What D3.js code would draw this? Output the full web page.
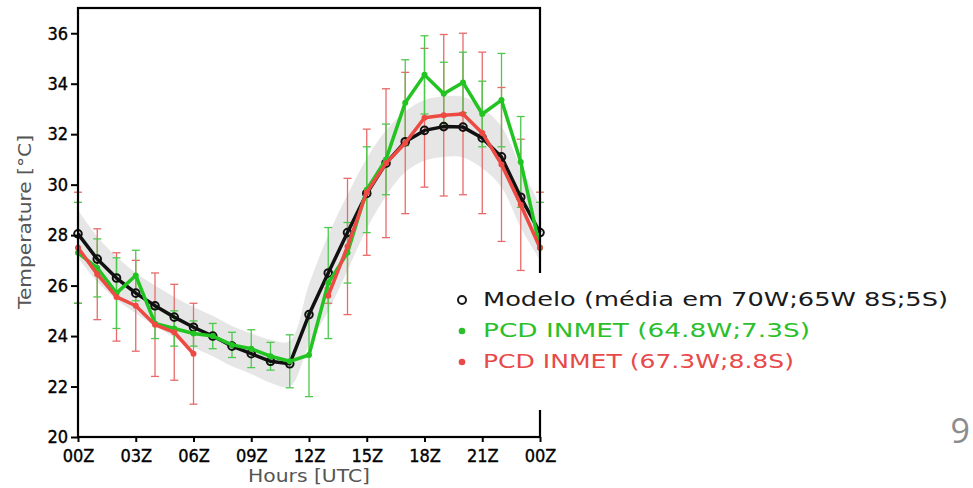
<!DOCTYPE html>
<html>
<head>
<meta charset="utf-8">
<script src="https://cdn.jsdelivr.net/npm/d3@7"></script>
<style>
  body { margin: 0; background: #fff; }
  svg { display: block; }
</style>
</head>
<body>
<script>
// hourly values, 00Z .. 00Z of the next day
const hours = [0, 1, 2, 3, 4, 5, 6, 7, 8, 9, 10, 11, 12, 13, 14, 15, 16, 17, 18, 19, 20, 21, 22, 23, 24];

const modelo = [28.05, 27.05, 26.3, 25.7, 25.2, 24.75, 24.35, 24.0, 23.6, 23.3, 23.0, 22.9, 24.85,
  26.5, 28.1, 29.65, 30.85, 31.7, 32.15, 32.3, 32.28, 31.85, 31.1, 29.5, 28.1];
const modeloStd = [0.95, 0.9, 0.85, 0.8, 0.8, 0.8, 0.8, 0.8, 0.8, 0.8, 0.85, 0.9, 1.2,
  1.5, 1.5, 1.4, 1.3, 1.2, 1.2, 1.2, 1.2, 1.2, 1.2, 1.2, 1.1];

const pcdVerde = [27.3, 26.7, 25.7, 26.4, 24.5, 24.3, 24.1, 24.0, 23.65, 23.5, 23.2, 23.0, 23.25,
  26.1, 27.3, 29.8, 31.0, 33.25, 34.35, 33.6, 34.05, 32.8, 33.35, 30.9, 27.5];
const pcdVerdeErr = [2.0, 1.15, 1.4, 1.0, 0.6, 0.7, 0.5, 0.5, 0.5, 0.75, 0.55, 1.05, 1.65,
  2.2, 1.2, 1.7, 1.4, 1.7, 1.55, 1.25, 1.2, 1.3, 1.85, 1.8, 1.8];

const pcdVermelho = [27.5, 26.45, 25.55, 25.2, 24.45, 24.15, 23.3, null, null, null, null, null, null,
  25.6, 27.55, 29.7, 30.85, 31.65, 32.65, 32.75, 32.8, 32.05, 30.8, 29.2, 27.5];
const pcdVermelhoErr = [2.2, 1.8, 1.75, 1.8, 2.05, 1.9, 2.0, null, null, null, null, null, null,
  0.3, 2.7, 2.5, 2.95, 2.8, 2.75, 3.2, 3.2, 3.2, 3.05, 2.6, 2.2];

const xTicks = [0, 3, 6, 9, 12, 15, 18, 21, 24];
const xTickLabels = ['00Z', '03Z', '06Z', '09Z', '12Z', '15Z', '18Z', '21Z', '00Z'];
const yTicks = [20, 22, 24, 26, 28, 30, 32, 34, 36];

const legendLabels = ['Modelo (média em 70W;65W 8S;5S)', 'PCD INMET (64.8W;7.3S)', 'PCD INMET (67.3W;8.8S)'];

const width = 973, height = 488;
const verde = '#22c422', verdeBar = '#4cc94c';
const vermelho = '#ee4a44', vermelhoBar = '#e86a6a';

const svg = d3.select('body').append('svg')
  .attr('width', width)
  .attr('height', height);

const x = d3.scaleLinear().domain([0, 24]).range([78, 540]);
const y = d3.scaleLinear().domain([20, 37]).range([437, 8]);

const tickFont = '"DejaVu Sans Condensed", "DejaVu Sans", sans-serif';

// gray band (model spread)
const band = d3.area()
  .x((d, i) => x(hours[i]))
  .y0((d, i) => y(d - modeloStd[i]))
  .y1((d, i) => y(d + modeloStd[i]))
  .curve(d3.curveCatmullRom);

svg.append('path')
  .datum(modelo)
  .attr('d', band)
  .attr('fill', '#e6e6e6');

// error bars
function errorBars(vals, errs, color) {
  const g = svg.append('g').attr('stroke', color).attr('stroke-width', 1.3).attr('fill', 'none');
  hours.forEach((h, i) => {
    if (vals[i] == null) return;
    const cx = x(h), top = y(vals[i] + errs[i]), bot = y(vals[i] - errs[i]);
    g.append('line').attr('x1', cx).attr('x2', cx).attr('y1', top).attr('y2', bot);
    g.append('line').attr('x1', cx - 4).attr('x2', cx + 4).attr('y1', top).attr('y2', top);
    g.append('line').attr('x1', cx - 4).attr('x2', cx + 4).attr('y1', bot).attr('y2', bot);
  });
}
errorBars(pcdVermelho, pcdVermelhoErr, vermelhoBar);
errorBars(pcdVerde, pcdVerdeErr, verdeBar);

const line = d3.line()
  .defined(d => d != null)
  .x((d, i) => x(hours[i]))
  .y(d => y(d));

// model
svg.append('path').datum(modelo).attr('d', line)
  .attr('fill', 'none').attr('stroke', '#111').attr('stroke-width', 3.5).attr('stroke-linejoin', 'round');
svg.append('g').selectAll('circle')
  .data(modelo)
  .join('circle')
  .attr('cx', (d, i) => x(hours[i]))
  .attr('cy', d => y(d))
  .attr('r', 3.8)
  .attr('fill', 'none')
  .attr('stroke', '#111')
  .attr('stroke-width', 2);

// stations
function station(vals, color) {
  svg.append('path').datum(vals).attr('d', line)
    .attr('fill', 'none').attr('stroke', color).attr('stroke-width', 3.5).attr('stroke-linejoin', 'round');
  svg.append('g').selectAll('circle')
    .data(hours.filter((h, i) => vals[i] != null))
    .join('circle')
    .attr('cx', h => x(h))
    .attr('cy', h => y(vals[h]))
    .attr('r', 3)
    .attr('fill', color);
}
station(pcdVerde, verde);
station(pcdVermelho, vermelho);

// frame
svg.append('rect')
  .attr('x', 78).attr('y', 8)
  .attr('width', 462).attr('height', 429)
  .attr('fill', 'none').attr('stroke', '#000').attr('stroke-width', 2.2);

// axes
const yAxis = svg.append('g')
  .attr('transform', 'translate(78,0)')
  .call(d3.axisLeft(y).tickValues(yTicks).tickSize(7).tickPadding(3));
const xAxis = svg.append('g')
  .attr('transform', 'translate(0,437)')
  .call(d3.axisBottom(x).tickValues(xTicks).tickSize(5).tickPadding(4)
    .tickFormat((d, i) => xTickLabels[i]));

[yAxis, xAxis].forEach(ax => {
  ax.select('.domain').remove();
  ax.selectAll('.tick line').attr('stroke', '#000').attr('stroke-width', 2);
  ax.selectAll('.tick text')
    .attr('fill', '#000')
    .attr('stroke', '#000').attr('stroke-width', 0.35)
    .style('font-family', tickFont)
    .style('font-size', '18px');
});
xAxis.selectAll('.tick text').attr('dy', null).attr('y', 25);

// axis titles
svg.append('text')
  .attr('transform', 'translate(31,222) rotate(-90)')
  .attr('text-anchor', 'middle')
  .attr('fill', '#555')
  .attr('textLength', 174)
  .attr('lengthAdjust', 'spacingAndGlyphs')
  .style('font-family', '"DejaVu Sans", sans-serif')
  .style('font-size', '18px')
  .text('Temperature [°C]');

svg.append('text')
  .attr('x', 309).attr('y', 482)
  .attr('text-anchor', 'middle')
  .attr('fill', '#555')
  .attr('textLength', 122)
  .attr('lengthAdjust', 'spacingAndGlyphs')
  .style('font-family', '"DejaVu Sans", sans-serif')
  .style('font-size', '18px')
  .text('Hours [UTC]');

// legend box on top of the plot
svg.append('rect')
  .attr('x', 445).attr('y', 273)
  .attr('width', 528).attr('height', 137)
  .attr('fill', '#fff');

const legendColors = ['#1a1a1a', '#2cbf2c', '#e84a4a'];
const legendRowY = [306, 337, 368];
const legendLen = [465, 327, 311];

legendLabels.forEach((lab, i) => {
  if (i === 0) {
    svg.append('circle').attr('cx', 462).attr('cy', legendRowY[i] - 6).attr('r', 4)
      .attr('fill', 'none').attr('stroke', legendColors[i]).attr('stroke-width', 2);
  } else {
    svg.append('circle').attr('cx', 462).attr('cy', legendRowY[i] - 6).attr('r', 3.3)
      .attr('fill', legendColors[i]);
  }
  svg.append('text')
    .attr('x', 483).attr('y', legendRowY[i])
    .attr('fill', legendColors[i])
    .attr('textLength', legendLen[i])
    .attr('lengthAdjust', 'spacingAndGlyphs')
    .style('font-family', '"DejaVu Sans", sans-serif')
    .style('font-size', '19px')
    .text(lab);
});

// slide page number
svg.append('text')
  .attr('x', 970).attr('y', 443)
  .attr('text-anchor', 'end')
  .attr('fill', '#8c8c8c')
  .style('font-family', '"Open Sans", sans-serif')
  .style('font-size', '34px')
  .text('9');
</script>
</body>
</html>
